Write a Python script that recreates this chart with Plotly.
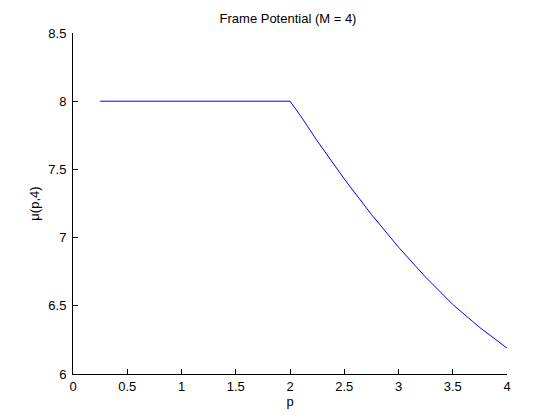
"""Frame potential curve for M = 4."""

import plotly.graph_objects as go

p_values = [0.25, 0.5, 0.75, 1.0, 1.25, 1.5, 1.75, 2.0, 2.1, 2.25, 2.5, 2.75, 3.0, 3.25, 3.5, 3.75, 4.0]
mu_values = [8.0, 8.0, 8.0, 8.0, 8.0, 8.0, 8.0, 8.0, 7.89, 7.71, 7.43, 7.17, 6.93, 6.71, 6.51, 6.34, 6.19]
x_ticks = [0, 0.5, 1, 1.5, 2, 2.5, 3, 3.5, 4]
y_ticks = [6, 6.5, 7, 7.5, 8, 8.5]

fig = go.Figure(
    go.Scatter(x=p_values, y=mu_values, mode="lines", line={"color": "#0000ff", "width": 1})
)

axis_style = {
    "showline": True,
    "linecolor": "black",
    "linewidth": 1,
    "ticks": "inside",
    "ticklen": 5,
    "tickcolor": "black",
    "showgrid": False,
    "zeroline": False,
    "automargin": False,
    "tickfont": {"size": 13},
}

# the page body adds an 8px margin, so the margins below are shifted by it
fig.update_layout(
    width=560,
    height=420,
    margin={"l": 65, "r": 61, "t": 25, "b": 54},
    plot_bgcolor="white",
    paper_bgcolor="white",
    font={"family": "Liberation Sans, Arial, sans-serif", "size": 13, "color": "black"},
    title={"text": "Frame Potential (M = 4)", "x": 0.5, "xanchor": "center",
           "y": 0.975, "yanchor": "middle", "font": {"size": 13}},
    showlegend=False,
    xaxis={**axis_style, "range": [0, 4], "tickvals": x_ticks,
           "title": {"text": "p", "standoff": 2, "font": {"size": 13}}},
    yaxis={**axis_style, "range": [6, 8.5], "tickvals": y_ticks, "ticklabelstandoff": 3,
           "title": {"text": "μ(p,4)", "standoff": 5, "font": {"size": 13}}},
)

fig.write_html("out.html")
